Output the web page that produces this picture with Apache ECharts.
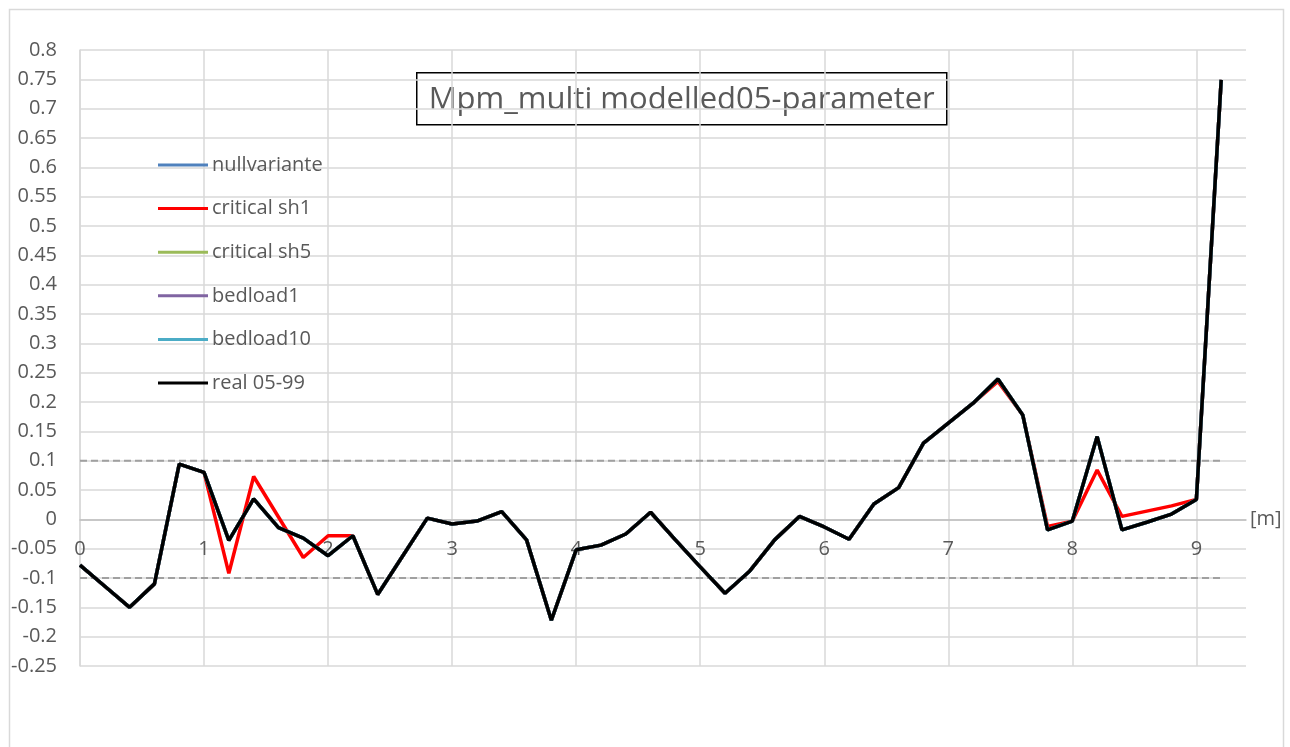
<!DOCTYPE html>
<html>
<head>
<meta charset="utf-8">
<title>Mpm_multi modelled05-parameter</title>
<script src="https://cdn.jsdelivr.net/npm/echarts@6/dist/echarts.min.js"></script>
<style>
  html, body { margin: 0; padding: 0; background: #fff; }
  #chart { width: 1290px; height: 747px; }
</style>
</head>
<body>
<div id="chart"></div>
<script>
// station positions [m]
const xPos = [0, 0.2, 0.4, 0.6, 0.8, 1.0, 1.2, 1.4, 1.6, 1.8, 2.0, 2.2, 2.4, 2.6, 2.8, 3.0, 3.2, 3.4, 3.6, 3.8,
  4.0, 4.2, 4.4, 4.6, 4.8, 5.0, 5.2, 5.4, 5.6, 5.8, 6.0, 6.2, 6.4, 6.6, 6.8, 7.0, 7.2, 7.4, 7.6, 7.8,
  8.0, 8.2, 8.4, 8.6, 8.8, 9.0, 9.2]

// measured (real 05-99)
const real0599 = [-0.078, -0.114, -0.150, -0.110, 0.094, 0.080, -0.036, 0.035, -0.014, -0.032, -0.062, -0.028, -0.128, -0.063, 0.002, -0.008,
  -0.003, 0.013, -0.035, -0.172, -0.052, -0.044, -0.025, 0.012, -0.035, -0.081, -0.126, -0.088, -0.035, 0.005, -0.013,
  -0.034, 0.026, 0.054, 0.130, 0.164, 0.198, 0.239, 0.178, -0.018, -0.003, 0.141, -0.018, -0.005, 0.009, 0.034, 0.749]

// critical sh1
const criticalSh1 = [-0.078, -0.114, -0.150, -0.110, 0.094, 0.080, -0.092, 0.073, 0.004, -0.065, -0.028, -0.028, -0.128, -0.063, 0.002, -0.008,
  -0.003, 0.013, -0.035, -0.172, -0.052, -0.044, -0.025, 0.012, -0.035, -0.081, -0.126, -0.088, -0.035, 0.005, -0.013,
  -0.034, 0.026, 0.054, 0.130, 0.164, 0.198, 0.235, 0.178, -0.012, -0.003, 0.084, 0.005, 0.014, 0.023, 0.034, 0.749]

// the other variants lie under the measured line
const nullvariante = real0599
const criticalSh5 = real0599
const bedload1 = real0599
const bedload10 = real0599

// tolerance band
const bandX = [0, 9.2]
const bandUpper = [0.1, 0.1]
const bandLower = [-0.1, -0.1]

const seriesNames = ['nullvariante', 'critical sh1', 'critical sh5', 'bedload1', 'bedload10', 'real 05-99']
const seriesColors = ['#4f81bd', '#ff0000', '#9bbb59', '#8064a2', '#4bacc6', '#000000']
const seriesValues = [nullvariante, criticalSh1, criticalSh5, bedload1, bedload10, real0599]

const yMin = -0.25
const yMax = 0.8
const textColor = '#595959'
const font = 'Open Sans'

const gridTop = 50
const gridBottom = 81
const plotHeight = 747 - gridTop - gridBottom
// put the x axis on y = 0
const zeroOffset = -plotHeight * (0 - yMin) / (yMax - yMin)

const pairs = (xs, ys) => xs.map((x, i) => [x, ys[i]])

const chart = echarts.init(document.getElementById('chart'))

let series = [
  { name: 'band+', data: pairs(bandX, bandUpper) },
  { name: 'band-', data: pairs(bandX, bandLower) }
].map(s => ({
  type: 'line',
  name: s.name,
  data: s.data,
  showSymbol: false,
  silent: true,
  lineStyle: { color: '#a0a0a0', width: 2, type: [7, 4] }
}))

seriesNames.forEach((name, i) => {
  series.push({
    type: 'line',
    name: name,
    data: pairs(xPos, seriesValues[i]),
    showSymbol: false,
    color: seriesColors[i],
    lineStyle: { color: seriesColors[i], width: 3.5 }
  })
})

chart.setOption({
  animation: false,
  backgroundColor: '#fff',
  textStyle: { fontFamily: font },
  grid: { left: 80, top: gridTop, right: 44, bottom: gridBottom, containLabel: false },
  legend: {
    data: seriesNames,
    orient: 'vertical',
    left: 158,
    top: 154,
    padding: 0,
    icon: 'rect',
    itemWidth: 50,
    itemHeight: 3,
    itemGap: 21.6,
    textStyle: { color: textColor, fontSize: 20, fontFamily: font, lineHeight: 22, padding: [0, 0, 0, -1] }
  },
  xAxis: {
    type: 'value',
    min: 0,
    max: 9.4,
    interval: 1,
    offset: zeroOffset,
    name: '[m]',
    nameLocation: 'end',
    nameGap: 4,
    nameTextStyle: { color: textColor, fontSize: 20, fontFamily: font },
    axisLine: { onZero: false, lineStyle: { color: '#bfbfbf', width: 1.5 } },
    axisTick: { show: false },
    axisLabel: { color: textColor, fontSize: 20, margin: 20, showMaxLabel: false, fontFamily: font },
    splitLine: { show: true, showMaxLine: false, lineStyle: { color: '#d9d9d9', width: 1.5 } }
  },
  yAxis: {
    type: 'value',
    min: yMin,
    max: yMax,
    interval: 0.05,
    axisLine: { show: true, lineStyle: { color: '#d9d9d9', width: 1.5 } },
    axisTick: { show: false },
    axisLabel: {
      color: textColor,
      fontSize: 20,
      margin: 23,
      fontFamily: font,
      formatter: v => String(+v.toFixed(2))
    },
    splitLine: { show: true, lineStyle: { color: '#d9d9d9', width: 1.5 } }
  },
  graphic: [
    {
      type: 'rect',
      left: 7,
      top: 7,
      shape: { width: 1274, height: 760 },
      style: { fill: 'none', stroke: '#d9d9d9', lineWidth: 1.5 },
      silent: true
    },
    {
      type: 'group',
      left: 416,
      top: 72,
      children: [
        {
          type: 'rect',
          shape: { x: 0, y: 0, width: 530, height: 52 },
          style: { fill: '#fff', stroke: '#000', lineWidth: 1.5 }
        },
        {
          type: 'text',
          x: 265,
          y: 27,
          style: {
            text: 'Mpm_multi modelled05-parameter',
            fill: textColor,
            font: '31px "' + font + '"',
            align: 'center',
            verticalAlign: 'middle'
          }
        }
      ]
    }
  ],
  series: series
})
</script>
</body>
</html>
